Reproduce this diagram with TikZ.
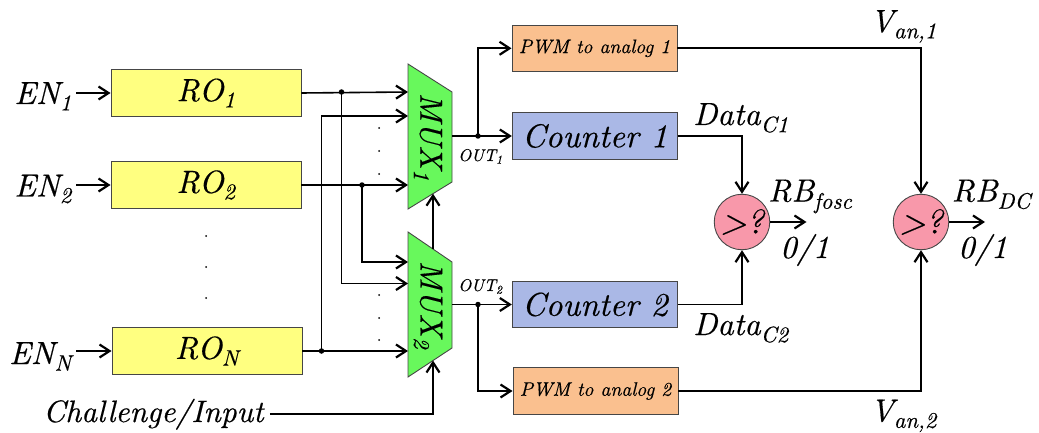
\documentclass[tikz,border=0pt]{standalone}
\usepackage{fontspec}
\setmainfont{lmroman10-regular.otf}[ItalicFont=lmroman10-italic.otf,ItalicFeatures={FakeBold=0.4}]
\usetikzlibrary{arrows.meta}

\definecolor{roYellow}{RGB}{255,255,128}
\definecolor{muxGreen}{RGB}{104,248,92}
\definecolor{pwmOrange}{RGB}{250,192,143}
\definecolor{cntBlue}{RGB}{170,184,230}
\definecolor{cmpPink}{RGB}{248,152,170}
\definecolor{edgeGray}{RGB}{70,70,70}

\newcommand\fsz[1]{\rmfamily\fontsize{#1pt}{#1pt}\selectfont\itshape}

\begin{document}
\begin{tikzpicture}[x=1pt,y=-1pt,
  wire/.style={line width=1.6pt},
  arr/.style={wire,-{Straight Barb[length=10pt,width=13pt,line width=2.2pt]}},
  block/.style={draw=edgeGray,line width=0.9pt,inner sep=0pt,minimum width=165pt,minimum height=46.5pt},
  roblock/.style={block,fill=roYellow,minimum width=190pt,font=\fsz{32}},
  pwmblock/.style={block,fill=pwmOrange,font=\fsz{19.5}},
  cntblock/.style={block,fill=cntBlue,font=\fsz{33}},
  muxshape/.style={draw=edgeGray,line width=0.9pt,fill=muxGreen},
  cmpnode/.style={circle,draw=edgeGray,line width=0.9pt,fill=cmpPink,minimum size=55.5pt,inner sep=0pt,font=\fsz{34}},
  lbl/.style={inner sep=0pt,font=\fsz{32}},
  smalllbl/.style={inner sep=0pt,font=\fsz{17}},
  jdot/.style={circle,fill=black,inner sep=0pt,minimum size=5.5pt},
  edot/.style={circle,fill=black,inner sep=0pt,minimum size=2pt}]

\useasboundingbox (0,0) rectangle (1039,433);

% ring oscillators and their enable inputs
\node[roblock] (ro1) at (206,93) {RO\textsubscript{1}};
\node[roblock] (ro2) at (206,185) {RO\textsubscript{2}};
\node[roblock] (roN) at (207,351) {RO\textsubscript{N}};
\node[lbl,anchor=base east] (en1) at (72,104) {EN\textsubscript{1}};
\node[lbl,anchor=base east] (en2) at (72,196.5) {EN\textsubscript{2}};
\node[lbl,anchor=base east] (enN) at (72,364) {EN\textsubscript{N}};
\draw[arr] ([xshift=4pt]en1.east |- ro1.west) -- (ro1.west);
\draw[arr] ([xshift=4pt]en2.east |- ro2.west) -- (ro2.west);
\draw[arr] ([xshift=4pt]enN.east |- roN.west) -- (roN.west);
\node[edot] (rd1) at (206,236) {};
\node[edot] (rd2) at (206,267) {};
\node[edot] (rd3) at (206,298) {};

% multiplexers
\coordinate (m1tl) at (408,64);  \coordinate (m1tr) at (452,92);
\coordinate (m1br) at (452,182); \coordinate (m1bl) at (408,209);
\coordinate (m2tl) at (408,232); \coordinate (m2tr) at (452,262);
\coordinate (m2br) at (452,348); \coordinate (m2bl) at (408,377);
\draw[muxshape] (m1tl) -- (m1tr) -- (m1br) -- (m1bl) -- cycle;
\draw[muxshape] (m2tl) -- (m2tr) -- (m2br) -- (m2bl) -- cycle;
\node[lbl,rotate=-90] (mux1) at (428,137) {MUX\textsubscript{1}};
\node[lbl,rotate=-90] (mux2) at (428,305) {MUX\textsubscript{2}};

% multiplexer input pins
\coordinate (m1a) at (408,92);  \coordinate (m1b) at (408,116);  \coordinate (m1c) at (408,185);
\coordinate (m2a) at (408,262); \coordinate (m2b) at (408,283.5); \coordinate (m2c) at (408,351);
% select pins
\coordinate (m1s) at (433,193.7);
\coordinate (m2t) at (433,249);
\coordinate (m2s) at (433,360.5);
% outputs
\coordinate (m1o) at (452,136);
\coordinate (m2o) at (452,304.5);

% taps on the oscillator outputs
\node[jdot] (t1) at (341.5,92) {};
\node[jdot] (t2) at (362,185) {};
\node[jdot] (tN) at (321.5,351) {};

\draw[arr] (ro1.east) -- (m1a);
\draw[arr] (ro2.east) -- (m1c);
\draw[arr] (roN.east) -- (m2c);
\draw[arr] (tN.center) |- (m1b);
\draw[arr] (t1.center) |- (m2b);
\draw[arr] (t2.center) |- (m2a);

\foreach \yy/\nm in {128/a,151/b,174/c} \node[edot] (d1\nm) at (379,\yy) {};
\foreach \yy/\nm in {295/a,318/b,340/c} \node[edot] (d2\nm) at (379,\yy) {};

% challenge input driving both select lines
\node[inner sep=0pt,font=\fsz{31},anchor=base west] (chal) at (43,422) {Challenge/Input};
\coordinate (ccorner) at (433,414);
\draw[arr] ([xshift=6pt]chal.east |- ccorner) -- (ccorner) -- (m2s);
\draw[arr] (m2t) -- (m1s);

% counters and PWM-to-analog converters
\node[pwmblock] (pwm1) at (594.5,48.3) {PWM to analog 1};
\node[cntblock] (cnt1) at (594.8,136) {Counter 1};
\node[cntblock] (cnt2) at (594.8,304.5) {Counter 2};
\node[pwmblock] (pwm2) at (595.5,391) {PWM to analog 2};

\node[jdot] (j1) at (478,136) {};
\node[jdot] (j2) at (478,304.5) {};
\draw[arr] (m1o) -- (cnt1.west);
\draw[arr] (m2o) -- (cnt2.west);
\draw[arr] (j1.center) |- (pwm1.west);
\draw[arr] (j2.center) |- (pwm2.west);
\node[smalllbl,anchor=base west] (out1) at (458,161) {OUT\textsubscript{1}};
\node[smalllbl,anchor=base west] (out2) at (458,291) {OUT\textsubscript{2}};

% comparators
\node[cmpnode] (cmp1) at (742,222) {>?};
\node[cmpnode] (cmp2) at (921,222) {>?};
\draw[arr] (cnt1.east) -| (cmp1.north);
\draw[arr] (cnt2.east) -| (cmp1.south);
\draw[arr] (pwm1.east) -| (cmp2.north);
\draw[arr] (pwm2.east) -| (cmp2.south);
\coordinate (rb1) at (806.5,222);
\coordinate (rb2) at (985,222);
\draw[arr] (cmp1.east) -- (rb1);
\draw[arr] (cmp2.east) -- (rb2);

% signal labels
\node[lbl,anchor=base west] (dc1) at (693,125) {Data\textsubscript{C1}};
\node[lbl,anchor=base west] (dc2) at (693,335) {Data\textsubscript{C2}};
\node[lbl,anchor=base west] (rbf) at (768,201.5) {RB\textsubscript{fosc}};
\node[lbl,anchor=base west] (rbd) at (951.5,201.5) {RB\textsubscript{DC}};
\node[lbl,anchor=base west] (b1) at (780,258) {0/1};
\node[lbl,anchor=base west] (b2) at (958,258) {0/1};
\node[lbl,anchor=base west] (va1) at (870,32) {V\textsubscript{an,1}};
\node[lbl,anchor=base west] (va2) at (870,421.5) {V\textsubscript{an,2}};

\end{tikzpicture}
\end{document}
